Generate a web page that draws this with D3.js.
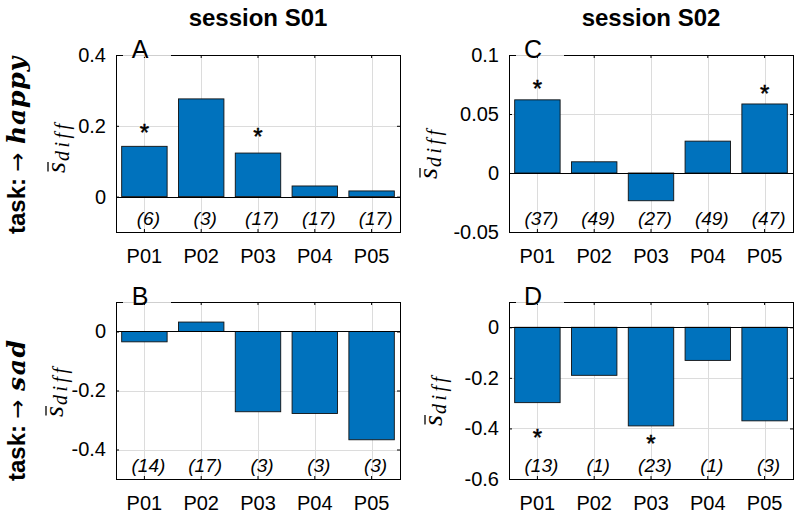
<!DOCTYPE html>
<html><head><meta charset="utf-8">
<script src="https://cdn.jsdelivr.net/npm/d3@7"></script>
<style>body{margin:0;background:#fff} svg{display:block}</style>
</head><body><svg id="c" width="800" height="516"></svg>
<script>
// ---------- data ----------
const categories = ["P01", "P02", "P03", "P04", "P05"];
const sessionTitles = ["session S01", "session S02"];
const taskWords = ["happy", "sad"];
const panelLetters = ["A", "B", "C", "D"];

const valuesA = [0.142, 0.276, 0.123, 0.030, 0.016];
const valuesB = [-0.035, 0.032, -0.272, -0.278, -0.367];
const valuesC = [0.062, 0.0095, -0.0235, 0.027, 0.0585];
const valuesD = [-0.298, -0.190, -0.390, -0.131, -0.370];

const countsA = [6, 3, 17, 17, 17];
const countsB = [14, 17, 3, 3, 3];
const countsC = [37, 49, 27, 49, 47];
const countsD = [13, 1, 23, 1, 3];

// y value (data units) at which a significance star sits; null = no star
const starsA = [0.197, null, 0.186, null, null];
const starsB = [null, null, null, null, null];
const starsC = [0.076, null, null, null, 0.072];
const starsD = [-0.416, null, -0.436, null, null];

const domainA = [-0.1, 0.4], ticksA = [0, 0.2, 0.4];
const domainB = [-0.5, 0.1], ticksB = [-0.4, -0.2, 0];
const domainC = [-0.05, 0.1], ticksC = [-0.05, 0, 0.05, 0.1];
const domainD = [-0.6, 0.1], ticksD = [-0.6, -0.4, -0.2, 0];

// ---------- layout ----------
const SANS = "'Liberation Sans', Arial, Helvetica, sans-serif";
const SERIF = "'Liberation Serif', 'Times New Roman', serif";
const W = 284, H = 177;
const lefts = [116, 509], tops = [55, 302];

const panels = [
  {letter: panelLetters[0], values: valuesA, counts: countsA, stars: starsA, domain: domainA, ticks: ticksA, col: 0, row: 0, ylabDx: -51, ylabC: 93},
  {letter: panelLetters[1], values: valuesB, counts: countsB, stars: starsB, domain: domainB, ticks: ticksB, col: 0, row: 1, ylabDx: -53, ylabC: 90},
  {letter: panelLetters[2], values: valuesC, counts: countsC, stars: starsC, domain: domainC, ticks: ticksC, col: 1, row: 0, ylabDx: -72, ylabC: 99},
  {letter: panelLetters[3], values: valuesD, counts: countsD, stars: starsD, domain: domainD, ticks: ticksD, col: 1, row: 1, ylabDx: -67, ylabC: 99}
];

const svg = d3.select("#c");
svg.append("rect").attr("width", 800).attr("height", 516).attr("fill", "#fff");

// column titles
sessionTitles.forEach((t, i) => {
  svg.append("text").attr("x", lefts[i] + W / 2).attr("y", 26)
    .attr("text-anchor", "middle").attr("font-family", SANS)
    .attr("font-weight", "bold").attr("font-size", 24).attr("fill", "#000").text(t);
});

// row labels
taskWords.forEach((w, r) => {
  const g = svg.append("g").attr("transform", `translate(25,${tops[r] + H + 2}) rotate(-90)`);
  g.append("text").attr("x", 0).attr("y", 0).attr("font-family", SANS)
    .attr("font-weight", "bold").attr("font-size", 24).text("task:");
  g.append("text").attr("x", 72).attr("y", 0).attr("text-anchor", "middle")
    .attr("font-family", "'DejaVu Sans', sans-serif").attr("font-size", 23).text("\u2192");
  g.append("text").attr("x", 90).attr("y", 0)
    .attr("font-family", "'DejaVu Serif', 'Liberation Serif', serif")
    .attr("font-weight", "bold").attr("font-style", "italic").attr("font-size", 25)
    .attr("textLength", w === "happy" ? 87 : 51).attr("lengthAdjust", "spacing").text(w);
});

panels.forEach(p => {
  const L = lefts[p.col], T = tops[p.row];
  const g = svg.append("g").attr("transform", `translate(${L},${T})`);
  const x = d3.scaleBand().domain(categories).range([0, W]).paddingInner(0.2).paddingOuter(0.1);
  const y = d3.scaleLinear().domain(p.domain).range([H, 0]);
  const cx = c => x(c) + x.bandwidth() / 2;

  // grid
  const grid = g.append("g").attr("stroke", "#dcdcdc").attr("stroke-width", 1);
  grid.selectAll("line.v").data(categories).join("line").attr("class", "v")
    .attr("x1", d => Math.round(cx(d)) + 0.5).attr("x2", d => Math.round(cx(d)) + 0.5)
    .attr("y1", 0).attr("y2", H);
  grid.selectAll("line.h").data(p.ticks).join("line").attr("class", "h")
    .attr("x1", 0).attr("x2", W)
    .attr("y1", d => Math.round(y(d)) + 0.5).attr("y2", d => Math.round(y(d)) + 0.5);

  // bars
  g.selectAll("rect.bar").data(p.values).join("rect").attr("class", "bar")
    .attr("x", (d, i) => x(categories[i]))
    .attr("width", x.bandwidth())
    .attr("y", d => y(Math.max(0, d)))
    .attr("height", d => Math.abs(y(d) - y(0)))
    .attr("fill", "#0072BD").attr("stroke", "#111").attr("stroke-width", 0.9);

  // zero baseline
  g.append("line").attr("x1", 0).attr("x2", W)
    .attr("y1", Math.round(y(0)) + 0.5).attr("y2", Math.round(y(0)) + 0.5)
    .attr("stroke", "#000").attr("stroke-width", 1);

  // stars
  g.selectAll("text.star").data(p.stars.map((s, i) => ({s, c: categories[i]})).filter(d => d.s !== null))
    .join("text").attr("class", "star")
    .attr("x", d => cx(d.c)).attr("y", d => y(d.s) + 14)
    .attr("text-anchor", "middle").attr("font-family", SANS).attr("font-size", 24)
    .attr("stroke", "#000").attr("stroke-width", 0.5).text("*");

  // counts
  g.selectAll("text.cnt").data(p.counts).join("text").attr("class", "cnt")
    .attr("x", (d, i) => cx(categories[i]) + 4).attr("y", H - 7)
    .attr("text-anchor", "middle").attr("font-family", SANS).attr("font-style", "italic")
    .attr("font-size", 19).text(d => `(${d})`);

  // axes (ticks inward)
  const styleAxis = sel => {
    sel.select(".domain").remove();
    sel.selectAll(".tick line").attr("stroke", "#000");
    sel.selectAll(".tick text").attr("font-family", SANS).attr("font-size", 20).attr("fill", "#000");
  };
  g.append("g").call(d3.axisLeft(y).tickValues(p.ticks).tickSize(-3).tickPadding(10).tickFormat(d => String(d))).call(styleAxis);
  g.append("g").attr("transform", `translate(${W},0)`).call(d3.axisRight(y).tickValues(p.ticks).tickSize(-3).tickFormat("")).call(styleAxis);
  g.append("g").attr("transform", `translate(0,${H})`).call(d3.axisBottom(x).tickSize(-3).tickPadding(17)).call(styleAxis);
  g.append("g").call(d3.axisTop(x).tickSize(-3).tickFormat("")).call(styleAxis);

  // border
  g.append("rect").attr("x", 0.5).attr("y", 0.5).attr("width", W).attr("height", H)
    .attr("fill", "none").attr("stroke", "#000").attr("stroke-width", 1);

  // panel letter with its light box edge
  g.append("line").attr("x1", 7).attr("x2", 55).attr("y1", 0.5).attr("y2", 0.5)
    .attr("stroke", "#fff").attr("stroke-width", 2.5);
  g.append("line").attr("x1", 7).attr("x2", 55).attr("y1", 0.5).attr("y2", 0.5)
    .attr("stroke", "#cfcfcf").attr("stroke-width", 1);
  g.append("text").attr("x", 24).attr("y", 3).attr("text-anchor", "middle")
    .attr("font-family", SANS).attr("font-size", 25).attr("fill", "#000").text(p.letter);

  // y label  s-bar with subscript diff
  const yl = svg.append("g").attr("transform", `translate(${L + p.ylabDx},${T + p.ylabC + 25}) rotate(-90)`);
  yl.append("text").attr("x", 0).attr("y", 0).attr("font-family", SERIF)
    .attr("font-style", "italic").attr("font-size", 28).text("s");
  yl.append("line").attr("x1", 1.5).attr("x2", 11).attr("y1", -17).attr("y2", -17)
    .attr("stroke", "#000").attr("stroke-width", 1.3);
  yl.append("text").attr("x", 12).attr("y", 4).attr("font-family", SERIF)
    .attr("font-style", "italic").attr("font-size", 20)
    .attr("textLength", 37).attr("lengthAdjust", "spacing").text("diff");
});
</script>
</body></html>
